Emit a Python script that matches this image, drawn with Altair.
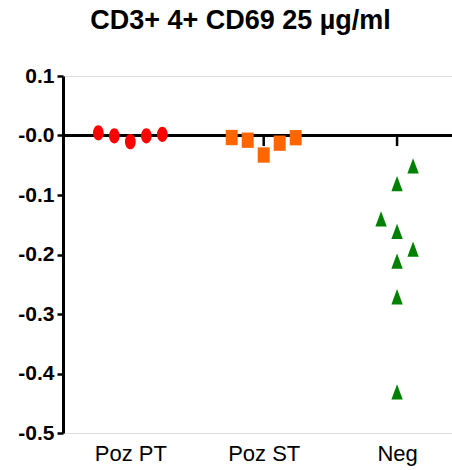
import altair as alt
import pandas as pd

# Groups and measured values
groups = ["Poz PT", "Poz ST", "Neg"]
poz_pt = [0.0045, -0.0005, -0.0104, -0.0005, 0.002]
poz_st = [-0.0034, -0.0079, -0.0328, -0.0129, -0.0037]
neg = [-0.051, -0.081, -0.140, -0.161, -0.191, -0.211, -0.271, -0.431]

# Horizontal scatter slot of each point within its group
pt_slots = [-2, -1, 0, 1, 2]
st_slots = [-2, -1, 0, 1, 2]
neg_slots = [1, 0, -1, 0, 1, 0, 0, 0]

y_ticks = [0.1, 0.0, -0.1, -0.2, -0.3, -0.4, -0.5]
colors = ["#FF0000", "#FF6600", "#008000"]
# ellipse, upright rectangle and triangle symbols
shapes = [
    "M-0.7,0A0.7,1 0 1,0 0.7,0A0.7,1 0 1,0 -0.7,0Z",
    "M-0.78,-1H0.78V1H-0.78Z",
    "M0,-1L0.74,1L-0.74,1Z",
]

rows = []
for gi, (name, vals, slots) in enumerate(
    [("Poz PT", poz_pt, pt_slots), ("Poz ST", poz_st, st_slots), ("Neg", neg, neg_slots)]
):
    for v, s in zip(vals, slots):
        rows.append({"group": name, "idx": gi + 1, "slot": s, "value": v})
df = pd.DataFrame(rows)

FONT = "Liberation Sans"

xscale = alt.Scale(domain=[0.495, 3.412], nice=False, zero=False)
yscale = alt.Scale(domain=[-0.5, 0.1], nice=False, zero=False)

points = (
    alt.Chart(df)
    .transform_calculate(xpos="datum.idx + datum.slot * 0.12")
    .mark_point(filled=True, opacity=1, size=235)
    .encode(
        x=alt.X(
            "xpos:Q",
            scale=xscale,
            title=None,
            axis=alt.Axis(
                values=[1, 2, 3],
                labelExpr="datum.value == 1 ? 'Poz PT' : datum.value == 2 ? 'Poz ST' : 'Neg'",
                domain=False,
                ticks=False,
                grid=False,
                labelFont=FONT,
                labelFontSize=22,
                labelColor="black",
                labelPadding=10,
            ),
        ),
        y=alt.Y(
            "value:Q",
            scale=yscale,
            title=None,
            axis=alt.Axis(
                values=y_ticks,
                labelExpr="datum.value == 0 ? '-0.0' : (datum.value < 0 ? '-' : '') + format(abs(datum.value), '.1f')",
                grid=False,
                domainColor="black",
                domainWidth=3,
                tickColor="black",
                tickWidth=2.5,
                tickSize=6,
                labelFont=FONT,
                labelFontSize=21,
                labelFontWeight="bold",
                labelColor="black",
                labelPadding=3,
            ),
        ),
        color=alt.Color("group:N", scale=alt.Scale(domain=groups, range=colors), legend=None),
        shape=alt.Shape("group:N", scale=alt.Scale(domain=groups, range=shapes), legend=None),
    )
)

# Baseline at zero, spanning the full plot width
zero_line = alt.Chart(pd.DataFrame({"y": [0.0]})).mark_rule(
    color="black", strokeWidth=3
).encode(y=alt.Y("y:Q", scale=yscale))

# Short ticks hanging below the baseline at each group
tick_df = pd.DataFrame({"idx": [1, 2, 3], "top": [0.0] * 3, "bottom": [-0.0177] * 3})
group_ticks = alt.Chart(tick_df).mark_rule(color="black", strokeWidth=2.5).encode(
    x=alt.X("idx:Q", scale=xscale),
    y=alt.Y("top:Q", scale=yscale),
    y2="bottom:Q",
)

chart = (
    alt.layer(zero_line, group_ticks, points)
    .properties(
        width=389,
        height=357,
        title=alt.TitleParams(
            "CD3+ 4+ CD69 25 µg/ml",
            font=FONT,
            fontSize=27,
            fontWeight="bold",
            color="black",
            anchor="middle",
            dx=-17,
            offset=30,
        ),
        autosize=alt.AutoSizeParams(type="none"),
        padding={"left": 63, "top": 76, "right": 0, "bottom": 37},
    )
    .configure_view(stroke=None)
    .configure(background="white")
)

chart.save("out.html", embed_options={"renderer": "svg", "actions": False})
